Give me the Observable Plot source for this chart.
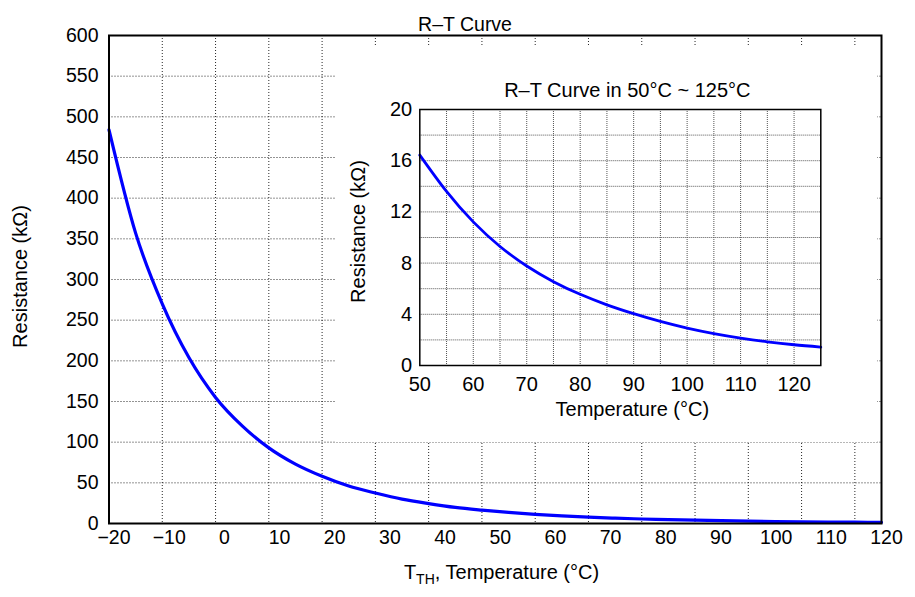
<!DOCTYPE html>
<html><head><meta charset="utf-8">
<script src="https://cdn.jsdelivr.net/npm/d3@7"></script>
<script src="https://cdn.jsdelivr.net/npm/@observablehq/plot@0.6"></script>
<style>
body{margin:0;background:#fff;}
#wrap{position:relative;width:915px;height:597px;}
#inset{position:absolute;left:335px;top:45px;}
</style></head><body><div id="wrap"><div id="main"></div><div id="inset"></div></div>
<script>
// Main curve (-20 .. 125 °C), resistance in kΩ
const mainTemps = [-20,-15,-10,-5,0,5,10,15,20,25,30,35,40,45,50,55,60,65,70,75,80,85,90,95,100,105,110,115,120,125];
const mainRes   = [484,357,270,204,155,120,93,73,58,46,37.5,30,24.5,19.8,16.44,13.6,11.22,9.3,7.77,6.55,5.56,4.74,4.05,3.44,2.92,2.49,2.14,1.85,1.62,1.44];
// Inset curve (50 .. 125 °C)
const insetTemps = [50,55,60,65,70,75,80,85,90,95,100,105,110,115,120,125];
const insetRes   = [16.44,13.6,11.22,9.3,7.77,6.55,5.56,4.74,4.05,3.44,2.92,2.49,2.14,1.85,1.62,1.44];
// Ticks / grids
const mainXGrid = [-10,0,10,20,30,40,50,60,70,80,90,100,110,120];
const mainXTickValues = [-20,-10,0,10,20,30,40,50,60,70,80,90,100,110,120];
const mainXTickLabels = ["−20","−10","0","10","20","30","40","50","60","70","80","90","100","110","120"];
const mainYTicks = [0,50,100,150,200,250,300,350,400,450,500,550,600];
const mainYGrid = [50,100,150,200,250,300,350,400,450,500,550];
const insetXGrid = [55,60,65,70,75,80,85,90,95,100,105,110,115,120];
const insetXTicks = [50,60,70,80,90,100,110,120];
const insetYGrid = [2,4,6,8,10,12,14,16,18];
const insetYTicks = [0,4,8,12,16,20];
// Texts
const mainTitle = "R–T Curve";
const mainYLabel = "Resistance (kΩ)";
const insetTitle = "R–T Curve in 50°C ~ 125°C";
const insetXLabel = "Temperature (°C)";
const insetYLabel = "Resistance (kΩ)";

const FONT = "'Liberation Sans', Arial, Helvetica, sans-serif";
const mainData = mainTemps.map((t, i) => ({t, r: mainRes[i]}));
const insetData = insetTemps.map((t, i) => ({t, r: insetRes[i]}));
const xLabelData = mainXTickValues.map((v, i) => ({v, label: mainXTickLabels[i]}));

const main = Plot.plot({
  width: 915, height: 597,
  marginLeft: 108.5, marginRight: 34, marginTop: 35, marginBottom: 74,
  style: {fontFamily: FONT, fontSize: "20px", color: "#000", background: "#fff"},
  x: {domain: [-20, 125], axis: null},
  y: {domain: [0, 600], axis: null},
  marks: [
    Plot.ruleX(mainXGrid, {stroke: "#000", strokeWidth: 1, strokeDasharray: "1,2", strokeOpacity: 0.85}),
    Plot.ruleY(mainYGrid, {stroke: "#000", strokeWidth: 1, strokeDasharray: "1,2", strokeOpacity: 0.85}),
    Plot.line(mainData, {x: "t", y: "r", stroke: "#0000ff", strokeWidth: 3.2, curve: "monotone-x"}),
    Plot.frame({stroke: "#000", strokeWidth: 2}),
    Plot.axisY(mainYTicks, {tickSize: 0, tickPadding: 10.5, fontSize: 19.5, label: null}),
    Plot.text(xLabelData, {x: d => -20 + (d.v + 20) * 145 / 140, text: "label", frameAnchor: "bottom", dy: 20, dx: 5, fontSize: 19.5}),
    Plot.text([mainTitle], {frameAnchor: "top-left", dx: 356, dy: -18, fontSize: 19.5, textAnchor: "middle"}),
    Plot.text(["T_TH, Temperature (°C)"], {frameAnchor: "bottom-left", dx: 392.5, dy: 55, fontSize: 20, textAnchor: "middle", className: "xlab"}),
    Plot.text([mainYLabel], {frameAnchor: "left", dx: -88.5, dy: -3, rotate: -90, fontSize: 20, textAnchor: "middle"})
  ]
});
document.getElementById("main").appendChild(main);
// subscript in x label
const xl = d3.select(main).select("g.xlab text");
xl.text(null);
xl.append("tspan").text("T");
xl.append("tspan").attr("font-size", 14).attr("dy", 5).text("TH");
xl.append("tspan").attr("dy", -5).text(", Temperature (°C)");

const inset = Plot.plot({
  width: 542, height: 397,
  marginLeft: 84.3, marginRight: 56.7, marginTop: 64, marginBottom: 77,
  style: {fontFamily: FONT, fontSize: "20px", color: "#000", background: "#fff"},
  x: {domain: [50, 125], axis: null},
  y: {domain: [0, 20], axis: null},
  marks: [
    Plot.ruleX(insetXGrid, {stroke: "#555", strokeWidth: 1, strokeDasharray: "1,1"}),
    Plot.ruleY(insetYGrid, {stroke: "#555", strokeWidth: 1, strokeDasharray: "1,1"}),
    Plot.line(insetData, {x: "t", y: "r", stroke: "#0000ff", strokeWidth: 2.8, curve: "natural"}),
    Plot.frame({stroke: "#000", strokeWidth: 1.5}),
    Plot.axisY(insetYTicks, {tickSize: 0, tickPadding: 7.6, fontSize: 20, label: null}),
    Plot.axisX(insetXTicks, {tickSize: 0, tickPadding: 11, fontSize: 20, label: null}),
    Plot.text([insetTitle], {frameAnchor: "top", dx: 7, dy: -26.5, fontSize: 20}),
    Plot.text([insetXLabel], {frameAnchor: "bottom", dx: 12, dy: 50, fontSize: 20}),
    Plot.text([insetYLabel], {frameAnchor: "left", dx: -61.3, dy: -6, rotate: -90, fontSize: 20, textAnchor: "middle"})
  ]
});
document.getElementById("inset").appendChild(inset);
</script>
</body></html>
